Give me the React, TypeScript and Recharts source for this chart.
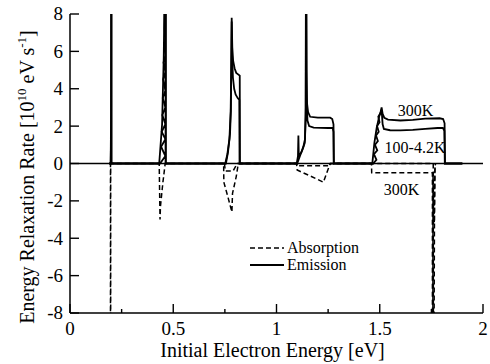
import React from "react";
import {
  LineChart,
  Line,
  XAxis,
  YAxis,
  ReferenceLine,
  ReferenceDot,
  Legend,
} from "recharts";

const FONT = '"Liberation Serif", "DejaVu Serif", serif';

// ---- tick values ----
const xTicks = [0, 0.25, 0.5, 0.75, 1, 1.25, 1.5, 1.75, 2];
const yTicks = [-8, -6, -4, -2, 0, 2, 4, 6, 8];

// ---- Emission, 300K (solid) ----
const emission300 = [
  { x: 0.19, y: 0 }, { x: 0.197, y: 0 }, { x: 0.199, y: 2.7 }, { x: 0.2, y: 12 }, { x: 0.201, y: 12 }, { x: 0.201, y: 0 },
  { x: 0.432, y: 0 }, { x: 0.446, y: 2.1 }, { x: 0.449, y: 3.5 }, { x: 0.454, y: 5.7 }, { x: 0.461, y: 12 }, { x: 0.464, y: 12 }, { x: 0.464, y: 0 },
  { x: 0.752, y: 0 }, { x: 0.762, y: 0.5 }, { x: 0.772, y: 1.3 }, { x: 0.778, y: 2.8 }, { x: 0.781, y: 5 }, { x: 0.783, y: 7.8 },
  { x: 0.786, y: 6.2 }, { x: 0.79, y: 5.5 }, { x: 0.797, y: 5.1 }, { x: 0.805, y: 4.85 }, { x: 0.822, y: 4.7 }, { x: 0.823, y: 0 },
  { x: 1.098, y: 0 }, { x: 1.104, y: 0.4 }, { x: 1.106, y: 1.5 }, { x: 1.108, y: 0.4 }, { x: 1.12, y: 0.6 }, { x: 1.13, y: 0.9 },
  { x: 1.138, y: 1.3 }, { x: 1.141, y: 3 }, { x: 1.143, y: 12 }, { x: 1.145, y: 5 }, { x: 1.148, y: 3.2 }, { x: 1.153, y: 2.75 },
  { x: 1.163, y: 2.5 }, { x: 1.2, y: 2.45 }, { x: 1.26, y: 2.45 }, { x: 1.27, y: 2.38 }, { x: 1.276, y: 2.1 }, { x: 1.278, y: 0 },
  { x: 1.464, y: 0 }, { x: 1.474, y: 1.1 }, { x: 1.485, y: 1.9 }, { x: 1.497, y: 2.5 }, { x: 1.505, y: 2.8 }, { x: 1.509, y: 3.0 },
  { x: 1.514, y: 2.65 }, { x: 1.522, y: 2.45 }, { x: 1.54, y: 2.35 }, { x: 1.6, y: 2.3 }, { x: 1.66, y: 2.33 }, { x: 1.72, y: 2.4 },
  { x: 1.79, y: 2.42 }, { x: 1.807, y: 2.38 }, { x: 1.814, y: 2.15 }, { x: 1.816, y: 0 }, { x: 1.9, y: 0 },
];

// ---- Emission, 100-4.2K (solid) ----
const emission100 = [
  { x: 0.19, y: 0 }, { x: 0.197, y: 0 }, { x: 0.199, y: 1.5 }, { x: 0.2, y: 12 }, { x: 0.2, y: 0 },
  { x: 0.436, y: 0 }, { x: 0.462, y: 0.4 }, { x: 0.441, y: 0.9 }, { x: 0.462, y: 1.3 }, { x: 0.444, y: 1.7 }, { x: 0.462, y: 2.1 },
  { x: 0.447, y: 2.6 }, { x: 0.462, y: 3.0 }, { x: 0.449, y: 3.5 }, { x: 0.462, y: 3.9 }, { x: 0.451, y: 4.5 }, { x: 0.462, y: 4.9 },
  { x: 0.453, y: 5.4 }, { x: 0.462, y: 5.8 }, { x: 0.456, y: 6.3 }, { x: 0.462, y: 6.7 }, { x: 0.458, y: 7.2 }, { x: 0.462, y: 12 },
  { x: 0.463, y: 12 }, { x: 0.463, y: 0 },
  { x: 0.755, y: 0 }, { x: 0.765, y: 0.6 }, { x: 0.775, y: 1.6 }, { x: 0.779, y: 2.8 }, { x: 0.782, y: 6.5 }, { x: 0.783, y: 7.6 },
  { x: 0.785, y: 5.8 }, { x: 0.789, y: 4.6 }, { x: 0.795, y: 4.0 }, { x: 0.802, y: 3.7 }, { x: 0.812, y: 3.5 }, { x: 0.82, y: 3.4 }, { x: 0.821, y: 0 },
  { x: 1.1, y: 0 }, { x: 1.115, y: 0.45 }, { x: 1.128, y: 0.8 }, { x: 1.137, y: 1.1 }, { x: 1.142, y: 2.5 }, { x: 1.143, y: 12 },
  { x: 1.144, y: 12 }, { x: 1.146, y: 3.5 }, { x: 1.15, y: 2.3 }, { x: 1.158, y: 2.0 }, { x: 1.18, y: 1.92 }, { x: 1.25, y: 1.9 },
  { x: 1.272, y: 1.9 }, { x: 1.276, y: 1.7 }, { x: 1.277, y: 0 },
  { x: 1.468, y: 0 }, { x: 1.484, y: 0.2 }, { x: 1.472, y: 0.5 }, { x: 1.488, y: 0.7 }, { x: 1.477, y: 1.0 }, { x: 1.491, y: 1.2 },
  { x: 1.482, y: 1.5 }, { x: 1.495, y: 1.7 }, { x: 1.487, y: 2.0 }, { x: 1.499, y: 2.2 }, { x: 1.493, y: 2.5 }, { x: 1.504, y: 2.7 },
  { x: 1.507, y: 2.8 }, { x: 1.51, y: 2.7 }, { x: 1.514, y: 2.1 }, { x: 1.52, y: 1.85 }, { x: 1.55, y: 1.78 }, { x: 1.6, y: 1.77 },
  { x: 1.66, y: 1.8 }, { x: 1.72, y: 1.85 }, { x: 1.78, y: 1.9 }, { x: 1.806, y: 1.9 }, { x: 1.813, y: 1.75 }, { x: 1.815, y: 0 },
  { x: 1.9, y: 0 },
];

// ---- Absorption, 300K (dashed) ----
const absorption300 = [
  { x: 0.19, y: 0 }, { x: 0.196, y: 0 }, { x: 0.196, y: -12 }, { x: 0.197, y: -12 }, { x: 0.197, y: 0 },
  { x: 0.432, y: 0 }, { x: 0.434, y: -1.5 }, { x: 0.436, y: -3.0 }, { x: 0.438, y: -2.3 }, { x: 0.45, y: -1.0 }, { x: 0.461, y: 0 },
  { x: 0.744, y: 0 }, { x: 0.745, y: -1.0 }, { x: 0.765, y: -1.8 }, { x: 0.784, y: -2.6 }, { x: 0.787, y: -1.6 }, { x: 0.805, y: -0.7 }, { x: 0.815, y: 0 },
  { x: 1.097, y: 0 }, { x: 1.1, y: -0.35 }, { x: 1.16, y: -0.65 }, { x: 1.227, y: -1.0 }, { x: 1.245, y: -0.45 }, { x: 1.26, y: 0 },
  { x: 1.46, y: 0 }, { x: 1.461, y: -0.5 }, { x: 1.755, y: -0.5 }, { x: 1.755, y: -12 }, { x: 1.757, y: -12 }, { x: 1.758, y: -0.6 },
  { x: 1.764, y: -3.2 }, { x: 1.767, y: -0.3 }, { x: 1.77, y: 0 },
];

// ---- Absorption, low temperature (dashed) ----
const absorptionLow = [
  { x: 0.748, y: 0 }, { x: 0.752, y: -0.4 }, { x: 0.79, y: -0.4 }, { x: 0.8, y: -0.2 }, { x: 0.81, y: 0 },
  { x: 1.1, y: 0 }, { x: 1.1, y: -0.12 }, { x: 1.26, y: -0.12 }, { x: 1.262, y: 0 },
  { x: 1.759, y: 0 }, { x: 1.76, y: -12 }, { x: 1.762, y: -12 }, { x: 1.765, y: -2.7 }, { x: 1.767, y: -0.4 }, { x: 1.769, y: 0 },
];

// ---- annotations ----
const annotations = [
  { x: 1.673, y: 2.83, text: "300K" },
  { x: 1.671, y: 0.87, text: "100-4.2K" },
  { x: 1.605, y: -1.39, text: "300K" },
];

const isMajorX = (v: number) => Math.abs(v * 2 - Math.round(v * 2)) < 1e-6;

const BottomTick = (props: any) => {
  const { x, y, payload } = props;
  const v = payload.value as number;
  const major = isMajorX(v);
  return (
    <g>
      <line x1={x} x2={x} y1={y} y2={y - (major ? 9 : 4)} stroke="#000" strokeWidth={1.4} />
      {major && (
        <text x={x} y={y + 21.5} textAnchor="middle" fontFamily={FONT} fontSize={19} fill="#000">
          {String(v)}
        </text>
      )}
    </g>
  );
};

const TopTick = (props: any) => {
  const { x, y, payload } = props;
  const major = isMajorX(payload.value);
  return <line x1={x} x2={x} y1={y} y2={y + (major ? 9 : 4)} stroke="#000" strokeWidth={1.4} />;
};

const LeftTick = (props: any) => {
  const { x, y, payload } = props;
  return (
    <g>
      <line x1={x} x2={x + 9} y1={y} y2={y} stroke="#000" strokeWidth={1.4} />
      <text x={x - 7} y={y + 6.4} textAnchor="end" fontFamily={FONT} fontSize={19} fill="#000">
        {String(payload.value)}
      </text>
    </g>
  );
};

const RightTick = (props: any) => {
  const { x, y } = props;
  return <line x1={x} x2={x - 6} y1={y} y2={y} stroke="#000" strokeWidth={1.4} />;
};

const XTitle = (props: any) => {
  const vb = props.viewBox || { x: 70, width: 413 };
  return (
    <text x={vb.x + vb.width / 2 - 4} y={356.5} textAnchor="middle" fontFamily={FONT} fontSize={20} fill="#000">
      Initial Electron Energy [eV]
    </text>
  );
};

const YTitle = () => (
  <text
    x={34}
    y={177}
    transform="rotate(-90, 34, 177)"
    textAnchor="middle"
    fontFamily={FONT}
    fontSize={20}
    fill="#000"
  >
    Energy Relaxation Rate [10
    <tspan dy={-8} fontSize={13}>10</tspan>
    <tspan dy={8}> eV s</tspan>
    <tspan dy={-8} fontSize={13}>-1</tspan>
    <tspan dy={8}>]</tspan>
  </text>
);

const LegendContent = () => (
  <div style={{ fontFamily: FONT, fontSize: 16, lineHeight: "17px", color: "#000" }}>
    <div style={{ display: "flex", alignItems: "center", height: 17 }}>
      <svg width={34} height={17}>
        <line x1={0} x2={34} y1={9} y2={9} stroke="#000" strokeWidth={1.5} strokeDasharray="5 3" />
      </svg>
      <span style={{ marginLeft: 3 }}>Absorption</span>
    </div>
    <div style={{ display: "flex", alignItems: "center", height: 17 }}>
      <svg width={34} height={17}>
        <line x1={0} x2={34} y1={9} y2={9} stroke="#000" strokeWidth={1.9} />
      </svg>
      <span style={{ marginLeft: 3 }}>Emission</span>
    </div>
  </div>
);

export default function App() {
  return (
    <div style={{ position: "absolute", left: 0, top: 0, background: "#fff" }}>
      <LineChart width={490} height={364} margin={{ top: 14, right: 7, bottom: 0, left: 0 }}>
        <XAxis
          xAxisId="bottom"
          dataKey="x"
          type="number"
          domain={[0, 2]}
          ticks={xTicks}
          interval={0}
          allowDataOverflow
          height={51}
          tickSize={0}
          tickMargin={0}
          tickLine={false}
          tick={<BottomTick />}
          axisLine={{ stroke: "#000", strokeWidth: 1.5 }}
          label={<XTitle />}
        />
        <XAxis
          xAxisId="top"
          orientation="top"
          dataKey="x"
          type="number"
          domain={[0, 2]}
          ticks={xTicks}
          interval={0}
          allowDataOverflow
          height={0}
          tickSize={0}
          tickMargin={0}
          tickLine={false}
          tick={<TopTick />}
          axisLine={{ stroke: "#000", strokeWidth: 1.5 }}
        />
        <YAxis
          yAxisId="left"
          type="number"
          domain={[-8, 8]}
          ticks={yTicks}
          interval={0}
          allowDataOverflow
          width={70}
          tickSize={0}
          tickMargin={0}
          tickLine={false}
          tick={<LeftTick />}
          axisLine={{ stroke: "#000", strokeWidth: 1.5 }}
          label={<YTitle />}
        />
        <YAxis
          yAxisId="right"
          orientation="right"
          type="number"
          domain={[-8, 8]}
          ticks={yTicks}
          interval={0}
          allowDataOverflow
          width={0}
          tickSize={0}
          tickMargin={0}
          tickLine={false}
          tick={<RightTick />}
          axisLine={{ stroke: "#000", strokeWidth: 1.5 }}
        />
        <ReferenceLine xAxisId="bottom" yAxisId="left" y={0} stroke="#000" strokeWidth={1.4} />
        <Line xAxisId="bottom" yAxisId="left" data={absorption300} dataKey="y" type="linear" stroke="#000"
          strokeWidth={1.5} strokeDasharray="5 3" dot={false} isAnimationActive={false} />
        <Line xAxisId="bottom" yAxisId="left" data={absorptionLow} dataKey="y" type="linear" stroke="#000"
          strokeWidth={1.5} strokeDasharray="5 3" dot={false} isAnimationActive={false} />
        <Line xAxisId="bottom" yAxisId="left" data={emission100} dataKey="y" type="linear" stroke="#000"
          strokeWidth={1.8} dot={false} isAnimationActive={false} />
        <Line xAxisId="bottom" yAxisId="left" data={emission300} dataKey="y" type="linear" stroke="#000"
          strokeWidth={1.8} dot={false} isAnimationActive={false} />
        {annotations.map((a, i) => (
          <ReferenceDot
            key={i}
            xAxisId="bottom"
            yAxisId="left"
            x={a.x}
            y={a.y}
            r={0}
            fill="none"
            stroke="none"
            label={{ value: a.text, position: "center", fontFamily: FONT, fontSize: 16, fill: "#000" }}
          />
        ))}
        <Legend
          layout="horizontal"
          verticalAlign="middle"
          align="center"
          content={<LegendContent />}
          wrapperStyle={{ position: "absolute", left: 250, top: 239, width: 140, height: 34 }}
        />
      </LineChart>
    </div>
  );
}
